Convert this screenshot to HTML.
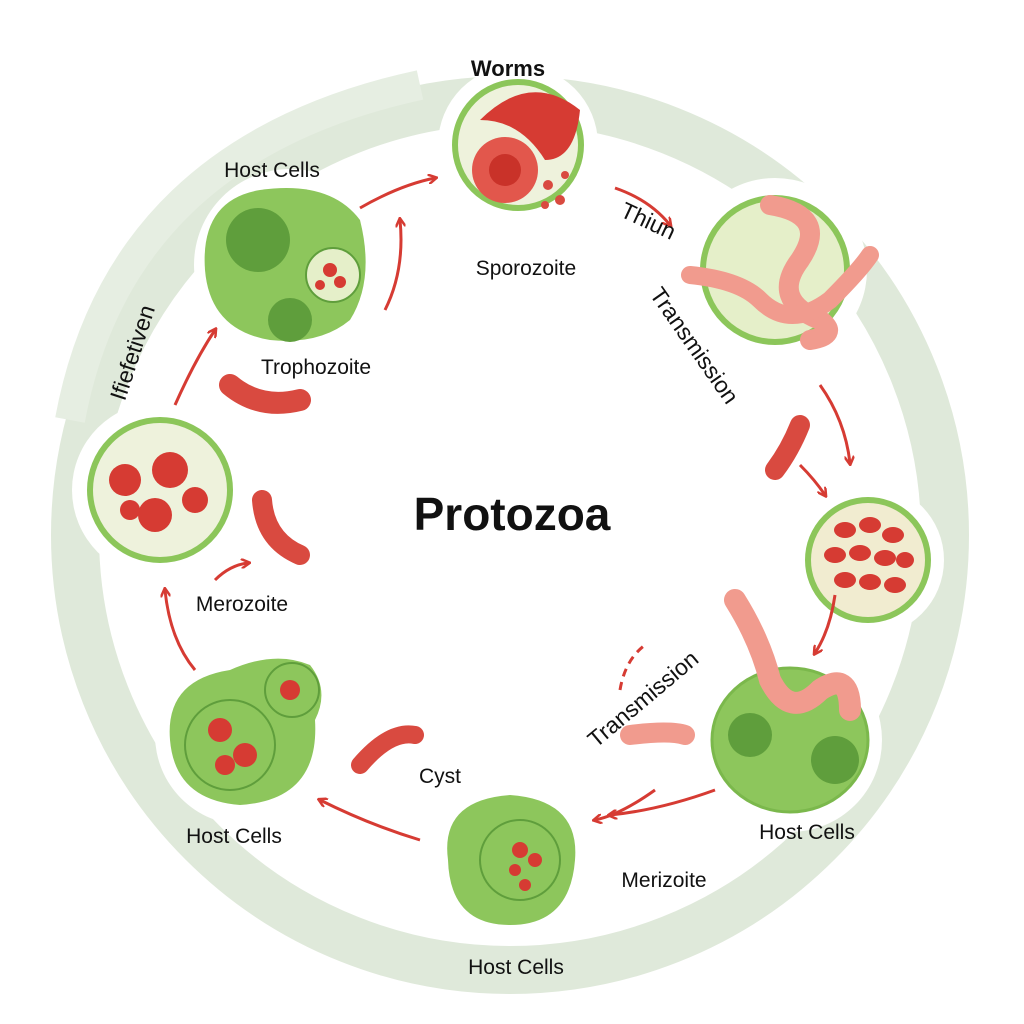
<!DOCTYPE html>
<html><head><meta charset="utf-8"><style>
html,body{margin:0;padding:0;background:#fff;}
svg{display:block;font-family:"Liberation Sans",sans-serif;}
</style></head><body>
<svg width="1024" height="1024" viewBox="0 0 1024 1024">
<defs>
<marker id="ah" markerWidth="10" markerHeight="10" refX="7" refY="5" orient="auto" markerUnits="userSpaceOnUse">
<path d="M0,0 L9,5 L0,10" fill="none" stroke="#d63b33" stroke-width="2.5"/>
</marker>
</defs>
<rect width="1024" height="1024" fill="#fff"/>
<!-- big ring -->
<circle cx="510" cy="535" r="435" fill="none" stroke="#dfe9da" stroke-width="48"/>
<path d="M70,420 Q120,150 420,85" fill="none" stroke="#e6eee2" stroke-width="30"/>
<!-- white halos -->
<g fill="#fff">
<circle cx="518" cy="145" r="80"/><circle cx="775" cy="270" r="92"/><circle cx="868" cy="560" r="76"/>
<circle cx="790" cy="740" r="92"/><circle cx="510" cy="860" r="84"/><circle cx="245" cy="735" r="90"/>
<circle cx="160" cy="490" r="88"/><circle cx="290" cy="265" r="96"/>
</g>
<!-- nodes -->
<circle cx="518" cy="145" r="63" fill="#eef2dc" stroke="#8cc65a" stroke-width="6"/>
<path d="M480,120 Q530,70 580,110 Q575,160 545,160 Q520,120 480,120Z" fill="#d63b33"/>
<circle cx="505" cy="170" r="33" fill="#e2574c"/><circle cx="505" cy="170" r="16" fill="#c93229"/>
<g fill="#d94a40"><circle cx="548" cy="185" r="5"/><circle cx="560" cy="200" r="5"/><circle cx="545" cy="205" r="4"/><circle cx="565" cy="175" r="4"/></g>

<circle cx="775" cy="270" r="72" fill="#e5efc9" stroke="#8cc65a" stroke-width="6"/>
<path d="M770,205 Q830,215 800,260 Q770,300 820,320 Q840,335 810,340" fill="none" stroke="#f19b8e" stroke-width="20" stroke-linecap="round"/>
<path d="M690,275 Q740,280 760,300 Q790,330 830,300 Q860,270 870,255" fill="none" stroke="#f19b8e" stroke-width="18" stroke-linecap="round"/>

<circle cx="868" cy="560" r="60" fill="#f1ecd0" stroke="#8cc65a" stroke-width="6"/>
<g fill="#d63b33">
<ellipse cx="845" cy="530" rx="11" ry="8"/><ellipse cx="870" cy="525" rx="11" ry="8"/><ellipse cx="893" cy="535" rx="11" ry="8"/>
<ellipse cx="835" cy="555" rx="11" ry="8"/><ellipse cx="860" cy="553" rx="11" ry="8"/><ellipse cx="885" cy="558" rx="11" ry="8"/><ellipse cx="905" cy="560" rx="9" ry="8"/>
<ellipse cx="845" cy="580" rx="11" ry="8"/><ellipse cx="870" cy="582" rx="11" ry="8"/><ellipse cx="895" cy="585" rx="11" ry="8"/>
</g>

<ellipse cx="790" cy="740" rx="78" ry="72" fill="#8dc65c" stroke="#7bb84c" stroke-width="3"/>
<circle cx="750" cy="735" r="22" fill="#5f9e3c"/><circle cx="835" cy="760" r="24" fill="#5f9e3c"/>
<path d="M735,600 Q760,640 770,680 Q790,720 820,690 Q850,670 850,710" fill="none" stroke="#f19b8e" stroke-width="22" stroke-linecap="round"/>

<path d="M448,860 Q440,800 510,795 Q580,800 575,860 Q570,925 510,925 Q450,925 448,860Z" fill="#8dc65c"/>
<circle cx="520" cy="860" r="40" fill="none" stroke="#5f9e3c" stroke-width="2"/>
<g fill="#d63b33"><circle cx="520" cy="850" r="8"/><circle cx="535" cy="860" r="7"/><circle cx="515" cy="870" r="6"/><circle cx="525" cy="885" r="6"/></g>

<path d="M170,740 Q165,680 230,670 Q275,650 310,665 Q330,690 315,720 Q320,800 240,805 Q175,800 170,740Z" fill="#8dc65c"/>
<circle cx="230" cy="745" r="45" fill="none" stroke="#5f9e3c" stroke-width="2"/>
<circle cx="292" cy="690" r="27" fill="none" stroke="#5f9e3c" stroke-width="2"/>
<g fill="#d63b33"><circle cx="220" cy="730" r="12"/><circle cx="245" cy="755" r="12"/><circle cx="225" cy="765" r="10"/><circle cx="290" cy="690" r="10"/></g>

<circle cx="160" cy="490" r="70" fill="#eef2dc" stroke="#8cc65a" stroke-width="6"/>
<g fill="#d63b33"><circle cx="125" cy="480" r="16"/><circle cx="170" cy="470" r="18"/><circle cx="155" cy="515" r="17"/><circle cx="195" cy="500" r="13"/><circle cx="130" cy="510" r="10"/></g>

<path d="M205,270 Q200,200 260,190 Q330,180 360,220 Q375,280 350,320 Q320,345 270,340 Q210,330 205,270Z" fill="#8dc65c"/>
<circle cx="258" cy="240" r="32" fill="#5f9e3c"/><circle cx="290" cy="320" r="22" fill="#5f9e3c"/>
<circle cx="333" cy="275" r="27" fill="#e5efc9" stroke="#5f9e3c" stroke-width="2"/>
<g fill="#d63b33"><circle cx="330" cy="270" r="7"/><circle cx="340" cy="282" r="6"/><circle cx="320" cy="285" r="5"/></g>

<!-- loose organisms -->
<path d="M230,385 Q260,410 300,400" fill="none" stroke="#d94a40" stroke-width="22" stroke-linecap="round"/>
<path d="M262,500 Q265,540 300,555" fill="none" stroke="#d94a40" stroke-width="20" stroke-linecap="round"/>
<path d="M800,425 Q790,450 775,470" fill="none" stroke="#d94a40" stroke-width="20" stroke-linecap="round"/>
<path d="M360,765 Q390,730 415,735" fill="none" stroke="#d94a40" stroke-width="18" stroke-linecap="round"/>
<path d="M630,735 Q670,730 685,735" fill="none" stroke="#f19b8e" stroke-width="20" stroke-linecap="round"/>

<!-- arrows -->
<g fill="none" stroke="#d63b33" stroke-width="3" marker-end="url(#ah)">
<path d="M360,208 Q400,185 435,178"/>
<path d="M385,310 Q405,270 400,220"/>
<path d="M615,188 Q650,200 670,225"/>
<path d="M175,405 Q195,360 215,330"/>
<path d="M820,385 Q845,420 850,463"/>
<path d="M835,595 Q830,630 815,653"/>
<path d="M715,790 Q660,810 610,815"/>
<path d="M655,790 Q620,815 595,820"/>
<path d="M420,840 Q370,825 320,800"/>
<path d="M195,670 Q170,640 165,590"/>
<path d="M215,580 Q230,565 248,563"/>
<path d="M800,465 Q815,480 825,495"/>
</g>
<path d="M620,690 Q625,660 645,645" fill="none" stroke="#d63b33" stroke-width="3" stroke-dasharray="8,6"/>

<!-- text -->
<g fill="#111" font-size="21">
<text x="508" y="76" text-anchor="middle" font-weight="bold" font-size="22">Worms</text>
<text x="272" y="177" text-anchor="middle">Host Cells</text>
<text x="526" y="275" text-anchor="middle">Sporozoite</text>
<text x="316" y="374" text-anchor="middle">Trophozoite</text>
<text x="242" y="611" text-anchor="middle">Merozoite</text>
<text x="440" y="783" text-anchor="middle">Cyst</text>
<text x="234" y="843" text-anchor="middle">Host Cells</text>
<text x="807" y="839" text-anchor="middle">Host Cells</text>
<text x="516" y="974" text-anchor="middle">Host Cells</text>
<text x="664" y="887" text-anchor="middle">Merizoite</text>
<text transform="translate(645,228) rotate(25)" text-anchor="middle" font-size="23">Thiun</text>
<text transform="translate(688,350) rotate(55)" text-anchor="middle" font-size="23">Transmission</text>
<text transform="translate(140,355) rotate(-72)" text-anchor="middle" font-size="23">Ifiefetiven</text>
<text transform="translate(648,705) rotate(-40)" text-anchor="middle" font-size="23">Transmission</text>
<text x="512" y="530" text-anchor="middle" font-weight="bold" font-size="46">Protozoa</text>
</g>
</svg>
</body></html>
